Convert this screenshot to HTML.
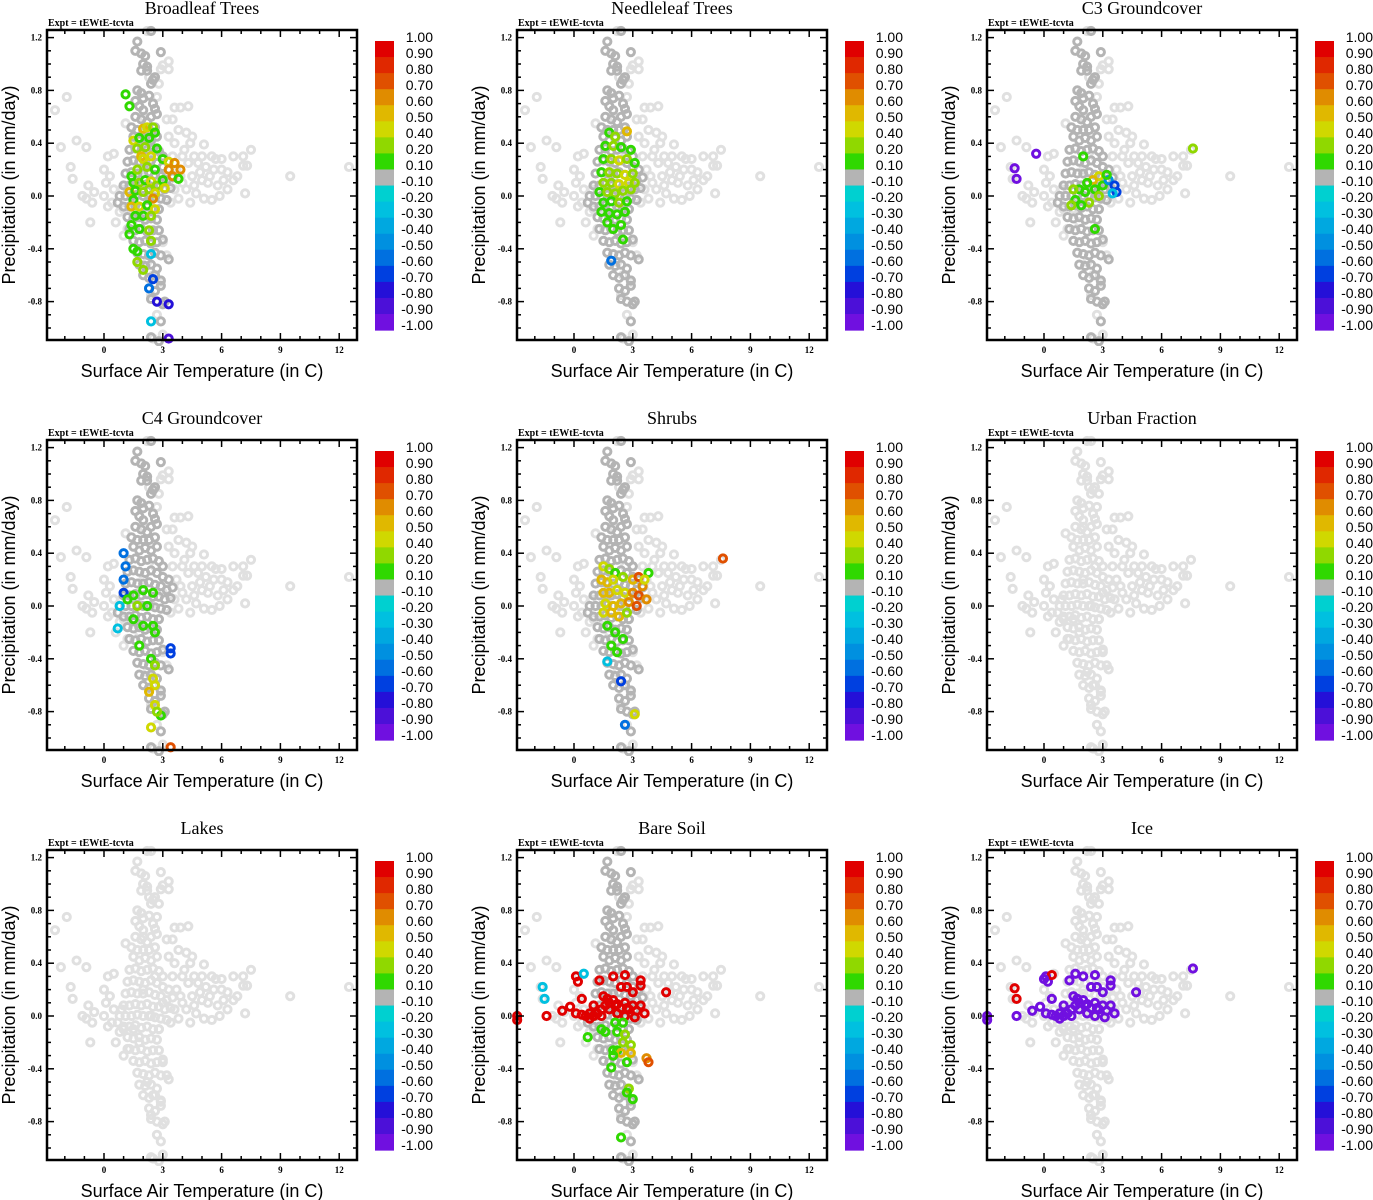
<!DOCTYPE html>
<html><head><meta charset="utf-8">
<style>
body{margin:0;background:#fff;}
svg{display:block;}
.t{font-family:"Liberation Serif",serif;}
.s{font-family:"Liberation Sans",sans-serif;}
</style></head>
<body>
<svg id="chart" width="1373" height="1200" viewBox="0 0 1373 1200" xmlns="http://www.w3.org/2000/svg"></svg>
<script>
// ---- data ----
const xTicks = [0,3,6,9,12];
const yTicks = [1.2,0.8,0.4,0.0,-0.4,-0.8];
const cbLabels = ["1.00","0.90","0.80","0.70","0.60","0.50","0.40","0.20","0.10","-0.10","-0.20","-0.30","-0.40","-0.50","-0.60","-0.70","-0.80","-0.90","-1.00"];
const cbColors = ["#e00000","#e02800","#e05000","#e08c00","#e0b800","#d0d800","#90d800","#30d800","#b4b4b4","#00d0d0","#00c0e0","#00a8e0","#0090e0","#0070e0","#0040e0","#2410d8","#4c10d8","#7010e0"];
const cbUpper = [1.0,0.9,0.8,0.7,0.6,0.5,0.4,0.2,0.1,-0.1,-0.2,-0.3,-0.4,-0.5,-0.6,-0.7,-0.8,-0.9];
const titles = ["Broadleaf Trees","Needleleaf Trees","C3 Groundcover","C4 Groundcover","Shrubs","Urban Fraction","Lakes","Bare Soil","Ice"];
const showDark = [true,true,true,true,true,false,false,true,false];

const bgPts = [[-2.5,0.65],[-1.9,0.75],[-2.2,0.37],[-1.4,0.42],[-0.9,0.37],[-1.7,0.22],[-1.6,0.13],[-0.8,0.08],[-0.5,0.03],[-1.1,0.0],[-0.6,-0.05],[-0.9,-0.02],[-0.7,-0.2],[0.2,0.3],[0.5,0.32],[0.0,0.2],[0.3,0.15],[0.1,0.1],[0.5,0.05],[0.0,0.0],[0.4,-0.05],[0.8,-0.12],[0.2,-0.08],[0.6,-0.2],[0.9,0.05],[1.1,0.55],[1.0,-0.1],[3.3,1.02],[3.0,0.99],[2.9,0.96],[3.3,0.96],[2.8,0.85],[3.6,0.67],[3.9,0.67],[4.3,0.68],[3.2,0.58],[3.5,0.58],[3.8,0.5],[4.2,0.48],[4.5,0.45],[3.3,0.45],[3.6,0.4],[4.4,0.4],[5.1,0.39],[5.5,0.3],[5.7,0.28],[6.6,0.3],[7.1,0.3],[7.5,0.35],[4.0,0.3],[4.3,0.25],[4.8,0.25],[5.2,0.22],[5.6,0.2],[6.0,0.2],[6.3,0.18],[6.8,0.15],[7.1,0.23],[7.3,0.23],[4.5,0.15],[5.0,0.12],[5.3,0.1],[5.8,0.08],[6.3,0.05],[6.6,0.12],[7.2,0.02],[4.2,0.05],[4.7,0.02],[5.1,-0.02],[5.5,-0.03],[5.9,0.0],[3.8,-0.02],[4.0,0.1],[3.7,0.2],[4.1,0.35],[9.5,0.15],[12.5,0.22],[1.5,-0.1],[1.2,-0.25],[1.0,-0.3],[2.0,0.6],[2.3,0.9],[2.0,1.0],[1.5,0.45],[3.0,-0.35],[3.2,-0.45],[2.7,0.75],[2.2,1.25],[3.4,-0.05],[3.6,0.05],[3.0,0.1],[2.6,0.3],[2.4,0.0],[2.8,-0.1],[2.0,0.2],[1.8,-0.2],[2.2,-0.5],[2.5,-0.6],[2.9,-0.65],[2.4,-0.75],[2.7,-0.9],[3.0,-1.05],[2.5,-1.08],[4.6,0.3],[5.0,0.3],[4.9,0.18],[5.4,0.15],[6.1,0.12],[4.4,-0.05],[3.9,0.15],[4.6,0.08],[3.5,0.3],[6.0,0.28]];

const darkPts = [[2.4,1.25],[1.7,1.17],[1.6,1.1],[1.9,1.08],[2.1,1.06],[2.9,1.09],[2.0,1.0],[2.2,0.98],[1.9,0.95],[2.2,0.95],[2.5,0.88],[2.6,0.9],[2.4,0.85],[1.7,0.8],[1.9,0.78],[2.0,0.74],[2.3,0.76],[1.6,0.72],[1.8,0.68],[2.0,0.65],[2.5,0.7],[2.6,0.66],[1.6,0.6],[1.9,0.58],[2.2,0.56],[2.4,0.6],[2.7,0.62],[1.4,0.52],[1.7,0.5],[2.0,0.5],[2.3,0.5],[2.6,0.52],[1.5,0.45],[1.8,0.42],[2.1,0.44],[2.4,0.42],[2.7,0.45],[1.3,0.35],[1.6,0.36],[1.9,0.34],[2.2,0.35],[2.5,0.36],[2.8,0.34],[3.0,0.3],[1.2,0.26],[1.5,0.27],[1.8,0.26],[2.1,0.25],[2.4,0.27],[2.7,0.25],[3.0,0.22],[3.3,0.2],[1.1,0.17],[1.4,0.18],[1.7,0.17],[2.0,0.17],[2.3,0.18],[2.6,0.16],[2.9,0.15],[3.2,0.12],[3.5,0.14],[1.0,0.08],[1.3,0.08],[1.6,0.09],[1.9,0.08],[2.2,0.09],[2.5,0.07],[2.8,0.07],[3.1,0.05],[3.4,0.06],[0.8,0.0],[1.1,0.0],[1.4,0.0],[1.7,0.01],[2.0,0.0],[2.3,0.0],[2.6,-0.01],[2.9,-0.02],[3.2,-0.03],[0.7,-0.05],[1.0,-0.08],[1.3,-0.08],[1.6,-0.07],[1.9,-0.09],[2.2,-0.08],[2.5,-0.1],[2.8,-0.1],[1.2,-0.16],[1.5,-0.17],[1.8,-0.16],[2.1,-0.18],[2.4,-0.17],[2.7,-0.18],[1.3,-0.25],[1.6,-0.26],[1.9,-0.25],[2.2,-0.27],[2.5,-0.26],[2.8,-0.26],[1.5,-0.34],[1.8,-0.35],[2.1,-0.34],[2.4,-0.36],[2.7,-0.35],[3.0,-0.33],[1.7,-0.43],[2.0,-0.44],[2.3,-0.45],[2.6,-0.43],[2.9,-0.45],[1.8,-0.52],[2.1,-0.53],[2.4,-0.52],[2.7,-0.55],[3.3,-0.48],[2.0,-0.6],[2.3,-0.62],[2.6,-0.6],[2.9,-0.64],[2.3,-0.7],[2.6,-0.72],[2.9,-0.68],[2.4,-0.78],[2.7,-0.8],[3.0,-0.82],[3.1,-0.8],[2.9,-0.95],[2.4,-1.07],[2.8,-1.1]];

const broadleaf = [[1.1,0.77,0.15],[1.3,0.68,0.15],[2.0,0.51,0.55],[2.2,0.52,0.5],[2.5,0.52,0.3],[1.5,0.42,0.5],[1.8,0.44,0.15],[2.3,0.44,0.15],[2.6,0.48,0.15],[2.7,0.36,0.15],[1.7,0.36,0.4],[2.1,0.37,0.3],[2.4,0.3,0.5],[1.9,0.3,0.6],[2.0,0.28,0.5],[3.0,0.28,0.15],[3.3,0.26,0.45],[3.6,0.25,0.65],[3.9,0.2,0.65],[3.3,0.2,0.65],[3.5,0.15,0.65],[3.8,0.13,0.15],[1.4,0.15,0.15],[1.7,0.2,0.3],[2.2,0.22,0.4],[2.6,0.2,0.15],[1.5,0.1,0.15],[1.8,0.1,0.3],[2.1,0.12,0.15],[2.4,0.11,0.45],[2.7,0.08,0.3],[3.0,0.12,0.15],[1.3,0.03,0.6],[1.6,0.04,0.15],[2.0,0.03,0.4],[2.3,0.05,0.3],[2.6,0.02,0.5],[3.1,0.06,0.45],[1.5,-0.03,0.15],[2.5,-0.02,0.65],[1.4,-0.08,0.6],[1.8,-0.08,0.5],[2.2,-0.07,0.15],[2.6,-0.1,0.5],[1.6,-0.15,0.15],[2.0,-0.15,0.15],[2.4,-0.15,0.3],[1.4,-0.22,0.15],[1.8,-0.25,0.15],[2.3,-0.26,0.3],[1.3,-0.29,0.15],[2.4,-0.34,0.4],[1.5,-0.4,0.15],[1.7,-0.42,0.15],[2.4,-0.44,-0.25],[1.7,-0.5,0.4],[2.0,-0.56,0.3],[2.5,-0.63,-0.6],[2.3,-0.7,-0.55],[2.7,-0.8,-0.7],[3.3,-0.82,-0.7],[2.4,-0.95,-0.25],[3.3,-1.08,-0.85]];
const needleleaf = [[1.8,0.48,0.15],[2.1,0.45,0.3],[2.7,0.49,0.55],[1.6,0.38,0.15],[2.0,0.38,0.3],[2.4,0.37,0.15],[2.9,0.35,0.15],[1.5,0.28,0.15],[1.9,0.28,0.3],[2.3,0.27,0.45],[2.7,0.28,0.3],[3.1,0.25,0.15],[1.4,0.18,0.15],[1.8,0.18,0.3],[2.2,0.17,0.4],[2.6,0.16,0.45],[3.0,0.17,0.3],[1.5,0.1,0.3],[1.9,0.1,0.4],[2.3,0.09,0.45],[2.8,0.1,0.45],[3.1,0.1,0.3],[1.3,0.03,0.15],[1.7,0.03,0.3],[2.1,0.02,0.3],[2.5,0.04,0.4],[2.9,0.05,0.3],[1.5,-0.05,0.15],[1.9,-0.04,0.15],[2.3,-0.05,0.3],[2.7,-0.04,0.15],[1.4,-0.12,0.15],[1.8,-0.13,0.15],[2.2,-0.14,0.15],[2.6,-0.12,0.15],[1.7,-0.2,0.15],[2.4,-0.22,0.15],[2.0,-0.25,0.15],[2.5,-0.33,0.15],[1.9,-0.49,-0.55]];
const c3 = [[-1.5,0.21,-0.95],[-1.4,0.13,-0.95],[-0.4,0.32,-0.9],[2.0,0.3,0.15],[7.6,0.36,0.3],[2.8,0.15,0.5],[2.5,0.12,0.55],[2.2,0.1,0.15],[1.8,0.05,0.15],[1.5,0.05,0.3],[2.1,0.03,0.15],[2.6,0.05,0.15],[3.0,0.08,0.15],[2.8,0.0,0.3],[1.6,-0.03,0.15],[2.3,-0.05,0.3],[1.4,-0.07,0.3],[1.9,-0.07,0.15],[3.3,0.12,-0.4],[3.6,0.08,-0.6],[3.7,0.03,-0.65],[3.5,0.02,-0.25],[2.6,-0.25,0.15],[3.2,0.16,0.15]];
const c4 = [[1.0,0.2,-0.5],[1.0,0.1,-0.65],[1.1,0.3,-0.55],[1.0,0.4,-0.55],[0.8,0.0,-0.25],[0.7,-0.17,-0.25],[1.2,0.05,0.15],[1.5,0.08,0.15],[2.0,0.12,0.15],[2.5,0.1,0.15],[1.7,0.0,0.3],[2.2,0.0,0.15],[1.5,-0.1,0.15],[2.0,-0.15,0.15],[2.5,-0.15,0.15],[1.8,-0.3,0.15],[2.6,-0.2,0.15],[2.4,-0.4,0.15],[2.6,-0.45,0.3],[2.5,-0.55,0.5],[2.6,-0.6,0.5],[2.3,-0.65,0.55],[2.6,-0.75,0.5],[2.9,-0.83,0.15],[2.7,-0.8,0.3],[2.4,-0.92,0.5],[3.4,-0.32,-0.6],[3.4,-0.36,-0.6],[3.4,-1.07,0.8]];
const shrubs = [[1.5,0.3,0.5],[1.8,0.28,0.3],[2.1,0.25,0.15],[1.4,0.2,0.55],[1.7,0.18,0.6],[2.0,0.2,0.5],[2.5,0.22,0.3],[3.0,0.2,0.6],[3.3,0.22,0.75],[3.5,0.15,0.7],[1.5,0.1,0.6],[1.8,0.1,0.55],[2.2,0.12,0.5],[2.6,0.1,0.45],[3.0,0.1,0.65],[3.3,0.08,0.75],[3.7,0.05,0.7],[1.6,0.02,0.45],[2.0,0.0,0.6],[2.4,0.02,0.55],[2.8,0.03,0.7],[3.2,0.0,0.75],[1.5,-0.05,0.5],[1.9,-0.05,0.6],[2.3,-0.08,0.55],[2.7,-0.05,0.3],[1.7,-0.15,0.15],[2.1,-0.2,0.15],[2.5,-0.25,0.15],[1.9,-0.3,0.15],[2.2,-0.35,0.15],[1.7,-0.42,-0.25],[2.4,-0.57,-0.6],[2.6,-0.9,-0.5],[3.1,-0.82,0.5],[7.6,0.36,0.75],[3.8,0.25,0.15],[3.6,0.2,0.45]];
const soilRedPos = [[-2.9,0.0],[-2.9,-0.03],[-1.4,0.0],[-0.6,0.04],[-0.2,0.07],[0.1,0.3],[0.2,0.26],[0.4,0.13],[0.1,0.02],[0.4,0.01],[0.6,0.0],[0.8,0.02],[1.0,0.0],[1.2,0.02],[1.4,0.05],[1.6,0.08],[1.8,0.1],[2.0,0.12],[2.2,0.09],[2.4,0.06],[2.6,0.1],[2.8,0.05],[3.0,0.08],[3.2,0.04],[3.4,0.08],[1.3,0.27],[2.0,0.3],[2.6,0.31],[2.4,0.22],[2.7,0.22],[3.4,0.27],[3.4,0.23],[3.0,0.18],[4.7,0.18],[1.5,0.15],[1.8,0.05],[2.2,0.02],[2.6,0.0],[3.1,-0.01],[1.0,0.08],[1.4,0.0],[3.6,0.02],[0.8,-0.02],[2.1,0.08],[2.7,0.06],[1.7,0.13]];
const soilRedVals = soilRedPos.map(()=>0.95);
const soilOther = [[-1.6,0.22,-0.25],[-1.5,0.13,-0.25],[0.5,0.32,-0.25],[0.7,-0.16,0.15],[1.4,-0.1,0.15],[1.6,-0.12,0.15],[2.1,-0.05,0.15],[2.2,-0.12,0.15],[2.5,-0.05,0.15],[2.6,-0.14,0.3],[2.5,-0.2,0.4],[2.9,-0.22,0.4],[2.0,-0.26,0.15],[2.2,-0.26,0.15],[2.4,-0.28,0.55],[2.9,-0.28,0.6],[2.0,-0.3,0.15],[2.7,-0.35,0.15],[1.9,-0.39,0.15],[3.7,-0.32,0.65],[3.8,-0.35,0.75],[2.8,-0.55,0.3],[2.7,-0.58,0.15],[3.0,-0.63,0.15],[2.4,-0.92,0.15]];
const iceVals = soilRedPos.map(()=>-0.95);
const iceOther = [[-1.5,0.21,0.95],[-1.4,0.13,0.95],[0.4,0.31,0.95],[7.6,0.36,-0.95],[0.0,0.28,-0.95],[1.6,0.32,-0.95]];

const soil = soilRedPos.map((p,i)=>[p[0],p[1],soilRedVals[i]]).concat(soilOther);
const ice = soilRedPos.map((p,i)=>[p[0],p[1],iceVals[i]]).concat(iceOther);
const colored = [broadleaf,needleleaf,c3,c4,shrubs,[],[],soil,ice];

// ---- drawing ----
const svg = document.getElementById('chart');
const NS = 'http://www.w3.org/2000/svg';
function mk(tag, attrs, parent){const e=document.createElementNS(NS,tag);for(const k in attrs)e.setAttribute(k,attrs[k]);parent.appendChild(e);return e;}
const L=47,R=357,T=30,B=340;
const MR=3.6, MW=3.0;
function xs(t){return 104 + t*19.6;}
function ys(p){return 196 - p*132;}
function colorFor(v){for(let i=0;i<cbUpper.length-1;i++){if(v>cbUpper[i+1])return cbColors[i];}return cbColors[17];}

titles.forEach((title,k)=>{
  const ox=(k%3)*470, oy=Math.floor(k/3)*410;
  const g=mk('g',{transform:`translate(${ox},${oy})`},svg);
  
  
  const tt=mk('text',{x:202,y:14,'text-anchor':'middle','font-size':18,class:'t'},g);tt.textContent=title;
  
  
  const ex=mk('text',{x:48,y:26,'font-size':10,'font-weight':'bold',class:'t'},g);ex.textContent='Expt = tEWtE-tcvta';
  
  
  const clip='c'+k;
  const cp=mk('clipPath',{id:clip},g);mk('rect',{x:L-5,y:T-6,width:R-L+10,height:B-T+12},cp);
  const pts=mk('g',{'clip-path':`url(#${clip})`},g);
  
  
  bgPts.forEach(p=>{const c=mk('circle',{cx:xs(p[0]),cy:ys(p[1]),r:MR,fill:'none',stroke:'#e0e0e0','stroke-width':MW},pts);
    
    });
  darkPts.forEach(p=>{const c=mk('circle',{cx:xs(p[0]),cy:ys(p[1]),r:MR,fill:'none',stroke:showDark[k]?'#b4b4b4':'#e0e0e0','stroke-width':MW},pts);
    
    });
  colored[k].forEach(p=>{const c=mk('circle',{cx:xs(p[0]),cy:ys(p[1]),r:MR,fill:'none',stroke:colorFor(p[2]),'stroke-width':MW},pts);
    
    });
  const fr=mk('rect',{x:L,y:T,width:R-L,height:B-T,fill:'none',stroke:'#000','stroke-width':2.5},g);
  
  
  for(let t=-2;t<=12;t++){const x=xs(t);const len=(t%3===0)?7:4;
    mk('line',{x1:x,y1:B,x2:x,y2:B-len,stroke:'#000','stroke-width':1.5},g);
    mk('line',{x1:x,y1:T,x2:x,y2:T+len,stroke:'#000','stroke-width':1.5},g);}
  for(let i=-10;i<=12;i++){const p=i/10;const y=ys(p);const maj=(Math.abs(i)%4===0);const len=maj?7:4;
    mk('line',{x1:L,y1:y,x2:L+len,y2:y,stroke:'#000','stroke-width':1.5},g);
    mk('line',{x1:R,y1:y,x2:R-len,y2:y,stroke:'#000','stroke-width':1.5},g);}
  xTicks.forEach(t=>{const e=mk('text',{x:xs(t),y:353,'text-anchor':'middle','font-size':9,'font-weight':'bold',class:'t'},g);e.textContent=t;
    
    });
  yTicks.forEach(p=>{const e=mk('text',{x:42,y:ys(p)+3,'text-anchor':'end','font-size':9,'font-weight':'bold',class:'t'},g);e.textContent=p.toFixed(1);
    
    });
  const xl=mk('text',{x:202,y:377,'text-anchor':'middle','font-size':18,class:'s'},g);xl.textContent='Surface Air Temperature (in C)';
  
  
  const yl=mk('text',{x:0,y:0,'text-anchor':'middle','font-size':18,class:'s',transform:'translate(15,185) rotate(-90)'},g);yl.textContent='Precipitation (in mm/day)';
  
  
  const cb=mk('g',{},g);
  
  
  cbColors.forEach((c,i)=>{const r=mk('rect',{x:375,y:41+i*16.06,width:19,height:16.6,fill:c},cb);
    
    });
  cbLabels.forEach((s,i)=>{const e=mk('text',{x:433,y:42+i*16,'text-anchor':'end','font-size':14,class:'s'},cb);e.textContent=s;
    
    });
});
</script>
</body></html>
